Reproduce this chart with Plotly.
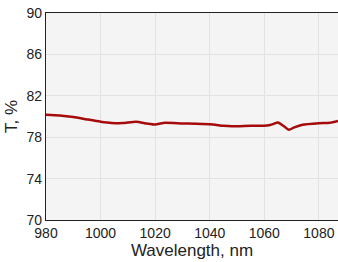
import plotly.graph_objects as go

wavelength = [980, 985, 990, 995, 1000, 1004, 1008, 1013, 1017, 1020, 1023, 1030, 1040, 1045, 1048, 1055, 1061, 1063, 1065, 1067, 1069, 1071, 1074, 1080, 1084, 1087]
transmission = [80.17, 80.1, 79.95, 79.72, 79.5, 79.38, 79.36, 79.5, 79.32, 79.22, 79.38, 79.33, 79.25, 79.1, 79.05, 79.1, 79.12, 79.25, 79.42, 79.1, 78.72, 78.95, 79.2, 79.35, 79.4, 79.58]

fig = go.Figure()
fig.add_trace(go.Scatter(x=wavelength, y=transmission, mode="lines",
                         line=dict(color="#a50b0b", width=2.5, shape="spline", smoothing=0.6)))

fig.update_layout(
    width=338, height=262,
    margin=dict(l=46, r=0, t=13, b=42),
    paper_bgcolor="white", plot_bgcolor="#f4f4f4",
    font=dict(family="Liberation Sans, Arial", size=14, color="#222"),
    showlegend=False,
)
fig.update_xaxes(range=[980, 1087], tickvals=[980, 1000, 1020, 1040, 1060, 1080],
                 showgrid=True, gridcolor="#e2e2e2", gridwidth=1,
                 showline=True, linecolor="#222", linewidth=1.2, mirror=True,
                 ticks="", title=dict(text="Wavelength, nm", standoff=0), zeroline=False)
fig.update_yaxes(range=[70, 90], tickvals=[70, 74, 78, 82, 86, 90],
                 showgrid=True, gridcolor="#e2e2e2", gridwidth=1,
                 showline=True, linecolor="#222", linewidth=1.2, mirror=True,
                 ticks="", title=dict(text="T, %", standoff=4), zeroline=False)

fig.write_html("out.html", config={"displayModeBar": False},
               post_script="document.body.style.margin='0';document.body.style.overflow='hidden';")
